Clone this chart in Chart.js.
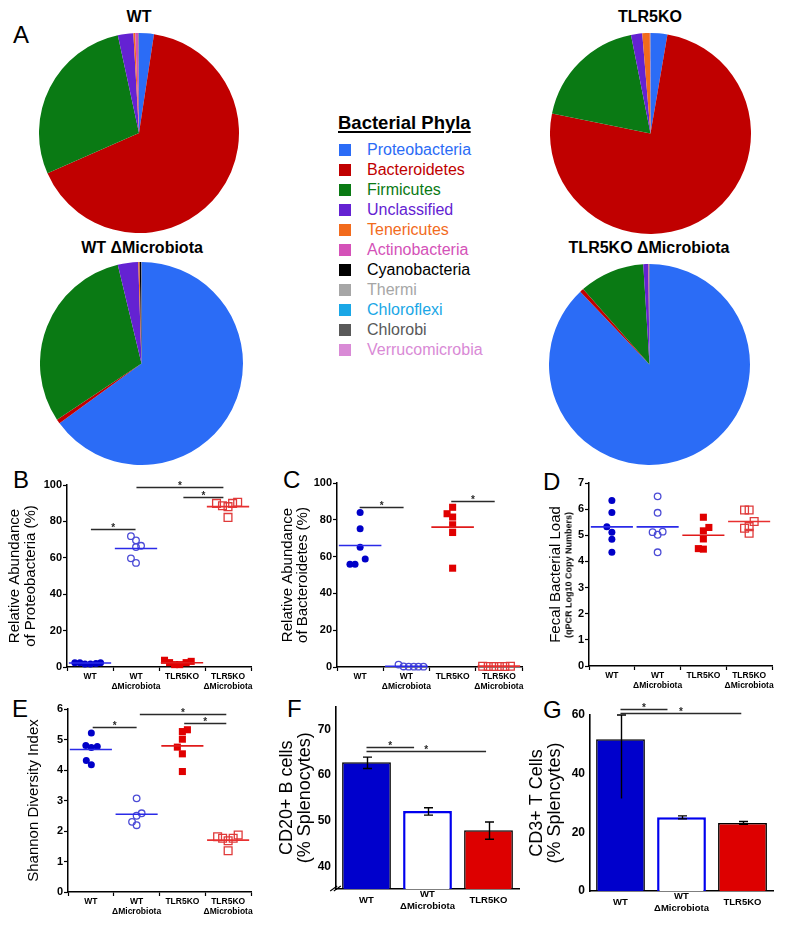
<!DOCTYPE html>
<html>
<head>
<meta charset="utf-8">
<title>Microbiota figure</title>
<script src="https://cdn.jsdelivr.net/npm/chart.js@4.4.1/dist/chart.umd.min.js"></script>
<style>
html,body{margin:0;padding:0;background:#fff;}
body{position:relative;width:800px;height:934px;overflow:hidden;font-family:"Liberation Sans",Arial,Helvetica,sans-serif;color:#000;}
canvas{position:absolute;}
.t{position:absolute;white-space:nowrap;}
</style>
</head>
<body>
<script>
// ---------------- DATA ----------------
const phyla = ['Proteobacteria','Bacteroidetes','Firmicutes','Unclassified','Tenericutes','Actinobacteria','Cyanobacteria','Thermi','Chloroflexi','Chlorobi','Verrucomicrobia'];
const phylaColors = ['#2b6cf6','#c00000','#0a7a14','#6422d2','#f26b1d','#d452b8','#000000','#a6a6a6','#1aa7e6','#595959','#d98ad6'];
const pieWT       = [2.4, 66.0, 28.2, 2.5, 0.3, 0.5, 0.05, 0.02, 0.01, 0.01, 0.01];
const pieTLR5KO   = [2.7, 75.5, 18.7, 1.8, 1.2, 0.05, 0.02, 0.01, 0.01, 0.01, 0.01];
const pieWTdM     = [65.0, 0.7, 30.6, 3.25, 0.2, 0.02, 0.25, 0.01, 0.01, 0.01, 0.01];
const pieTLR5KOdM = [87.9, 0.6, 10.5, 0.8, 0.05, 0.05, 0.05, 0.01, 0.01, 0.01, 0.01];

const groupLabels = [['WT'], ['WT','ΔMicrobiota'], ['TLR5KO'], ['TLR5KO','ΔMicrobiota']];
const barLabels = [['WT'], ['WT','ΔMicrobiota'], ['TLR5KO']];

// B: Relative abundance of Proteobacteria (%)
const protWT   = [2.4, 2.4, 1.7, 1.7, 1.9, 2.4];
const protWTdM = [71.9, 69.6, 65.9, 66.6, 59.7, 57.2];
const protKO   = [3.7, 2.4, 1.3, 1.3, 2.4, 3.1];
const protKOdM = [89.9, 88.6, 88.1, 89.9, 90.5, 82.2];
const protMedian = [2.2, 65.1, 2.3, 88.1];
const protJitter = [[-0.33,-0.22,-0.11,0.01,0.13,0.23],[-0.11,0,0,0.11,-0.11,0],[-0.38,-0.27,-0.16,-0.05,0.09,0.2],[-0.25,-0.12,0,0.1,0.21,0]];
const protSig = [[0.52,1.49,75.8],[1.51,3.4,98.7],[2.53,3.4,93.2]];

// C: Relative abundance of Bacteroidetes (%)
const bactWT   = [84.0, 75.1, 65.1, 58.7, 55.8, 55.8];
const bactWTdM = [1.3, 0.3, 0.2, 0.2, 0.2, 0.2];
const bactKO   = [83.3, 86.8, 81.5, 77.3, 73.1, 53.7];
const bactKOdM = [0.4, 0.3, 0.3, 0.3, 0.3, 0.4];
const bactMedian = [66.0, 0.4, 76.0, 0.5];
const bactJitter = [[0,0,0,0.11,-0.11,-0.22],[-0.17,-0.06,0.05,0.16,0.26,0.37],[-0.12,0,0,0,0,0],[-0.35,-0.23,-0.11,0.01,0.13,0.25]];
const bactSig = [[0.49,1.44,87.2],[2.47,3.41,90.3]];

// D: Fecal bacterial load (qPCR log10 copy numbers)
const loadWT   = [6.33, 5.87, 5.33, 5.12, 4.85, 4.35];
const loadWTdM = [6.49, 5.86, 5.12, 5.02, 5.14, 4.35];
const loadKO   = [5.69, 5.30, 5.17, 4.86, 4.49, 4.47];
const loadKOdM = [5.97, 5.97, 5.53, 5.33, 5.27, 5.08];
const loadMedian = [5.32, 5.32, 5.0, 5.53];
const loadJitter = [[0,0,-0.11,0,0,0],[0,0,-0.11,0,0.11,0],[0,0.12,0,0,-0.11,0],[-0.1,0,0.11,0,-0.1,0]];

// E: Shannon diversity index
const shanWT   = [5.21, 4.80, 4.74, 4.77, 4.31, 4.17];
const shanWTdM = [3.07, 2.50, 2.58, 2.30, 2.19];
const shanKO   = [5.26, 5.32, 5.01, 4.75, 4.53, 3.95];
const shanKOdM = [1.81, 1.76, 1.68, 1.76, 1.87, 1.35];
const shanMedian = [4.67, 2.55, 4.79, 1.70];
const shanJitter = [[0.01,-0.11,0.01,0.14,-0.1,0.01],[0,0,0.11,-0.1,0],[0,0.11,0,-0.11,0,0],[-0.23,-0.12,0,0.11,0.22,0]];
const shanSig = [[0.54,1.5,5.41],[1.57,3.46,5.84],[2.54,3.46,5.54]];

// F: CD20+ B cells (% splenocytes)
const cd20   = [62.8, 52.1, 47.9];
const cd20Lo = [61.4, 51.2, 45.9];
const cd20Hi = [63.9, 52.8, 49.7];
const cd20Sig = [[0,0.78,66.2],[0,1.96,65.3]];

// G: CD3+ T cells (% splenocytes)
const cd3   = [51.7, 25.1, 23.2];
const cd3Lo = [31.5, 24.6, 22.7];
const cd3Hi = [60.0, 25.6, 23.7];
const cd3Sig = [[0,0.77,61.9],[0,1.98,60.8]];

// ---------------- SETUP ----------------
const FONT = '"Liberation Sans", Arial, Helvetica, sans-serif';
Chart.defaults.font.family = FONT;
Chart.defaults.color = '#000';
Chart.defaults.animation = false;
Chart.defaults.responsive = false;
Chart.defaults.events = [];
Chart.defaults.plugins.legend.display = false;
Chart.defaults.plugins.tooltip.enabled = false;

function mkCanvas(l, t, w, h) {
  const c = document.createElement('canvas');
  c.width = w; c.height = h;
  c.style.left = l + 'px'; c.style.top = t + 'px';
  c.style.width = w + 'px'; c.style.height = h + 'px';
  document.body.appendChild(c);
  return c;
}
function txt(str, x, base, size, o = {}) {
  const d = document.createElement('div');
  d.className = 't';
  d.textContent = str;
  d.style.fontSize = size + 'px';
  d.style.lineHeight = size + 'px';
  d.style.top = (base - 0.8465 * size) + 'px';
  d.style.left = x + 'px';
  d.style.fontWeight = o.weight || 'normal';
  d.style.color = o.color || '#000';
  if (o.center) d.style.transform = 'translateX(-50%)';
  document.body.appendChild(d);
  return d;
}

// ---------------- PIES ----------------
function pie(l, t, size, values) {
  const c = mkCanvas(l, t, size, size);
  new Chart(c, {
    type: 'pie',
    data: { labels: phyla, datasets: [{ data: values, backgroundColor: phylaColors, borderWidth: 0 }] },
    options: { layout: { padding: 0 } }
  });
}
pie(39, 33, 200, pieWT);
pie(550, 33, 201, pieTLR5KO);
pie(40, 262, 203, pieWTdM);
pie(549, 264, 201, pieTLR5KOdM);

txt('WT', 139, 22.7, 16, { weight: 'bold', center: true });
txt('TLR5KO', 650, 22.7, 16, { weight: 'bold', center: true });
txt('WT ΔMicrobiota', 142, 254, 16, { weight: 'bold', center: true });
txt('TLR5KO ΔMicrobiota', 649, 254, 16, { weight: 'bold', center: true });

// Legend
const lt = txt('Bacterial Phyla', 338, 130, 18.5, { weight: 'bold' });
lt.style.textDecoration = 'underline';
lt.style.textDecorationThickness = '2px';
lt.style.textUnderlineOffset = '2px';
phyla.forEach((name, i) => {
  const base = 155.5 + 20 * i;
  const sq = document.createElement('div');
  sq.style.cssText = `position:absolute;left:339px;top:${base - 11.5}px;width:12px;height:12px;background:${phylaColors[i]}`;
  document.body.appendChild(sq);
  txt(name, 367, base, 16, { color: phylaColors[i] });
});

// Panel letters
[['A',13,43],['B',13,488],['C',283,488],['D',543,490],['E',12,717],['F',287,717],['G',543,718]]
  .forEach(([s,x,b]) => txt(s, x, b, 24));

// ---------------- PLUGINS ----------------
function sigPlugin(lines) {
  return { id: 'sigBrackets', afterDatasetsDraw(chart) {
    const ctx = chart.ctx, x = chart.scales.x, y = chart.scales.y;
    ctx.save();
    ctx.strokeStyle = '#2a2a2a'; ctx.fillStyle = '#2a2a2a'; ctx.lineWidth = 1.3;
    ctx.font = 'bold 10px ' + FONT; ctx.textAlign = 'center'; ctx.textBaseline = 'alphabetic';
    lines.forEach(([a, b, v]) => {
      const py = Math.round(y.getPixelForValue(v)) + 0.5;
      const xa = x.getPixelForValue(a), xb = x.getPixelForValue(b);
      ctx.beginPath(); ctx.moveTo(xa, py); ctx.lineTo(xb, py); ctx.stroke();
      ctx.fillText('*', (xa + xb) / 2, py + 1.5);
    });
    ctx.restore();
  }};
}
function errPlugin(lo, hi, capLo) {
  return { id: 'errBars', afterDatasetsDraw(chart) {
    const ctx = chart.ctx, y = chart.scales.y, meta = chart.getDatasetMeta(0);
    ctx.save(); ctx.strokeStyle = '#000'; ctx.lineWidth = 1.4;
    meta.data.forEach((bar, i) => {
      const x = Math.round(bar.x) + 0.5;
      const yl = y.getPixelForValue(lo[i]), yh = y.getPixelForValue(hi[i]);
      ctx.beginPath(); ctx.moveTo(x, yl); ctx.lineTo(x, yh);
      ctx.moveTo(x - 4.5, yh); ctx.lineTo(x + 4.5, yh);
      if (capLo[i]) { ctx.moveTo(x - 4.5, yl); ctx.lineTo(x + 4.5, yl); }
      ctx.stroke();
    });
    ctx.restore();
  }};
}
const breakPlugin = { id: 'axisBreak', afterDraw(chart) {
  const ctx = chart.ctx, a = chart.chartArea;
  ctx.save(); ctx.strokeStyle = '#000'; ctx.lineWidth = 1.1;
  [-1.8, 1.8].forEach(d => {
    ctx.beginPath(); ctx.moveTo(a.left - 4 + d, a.bottom + 2); ctx.lineTo(a.left + 3 + d, a.bottom - 3); ctx.stroke();
  });
  ctx.restore();
}};

// ---------------- DOT PANELS ----------------
const dotStyles = [
  { shape: 'circle', r: 3.5, fill: '#0000c8', stroke: '#0000c8', bw: 0, line: '#2a2ae8' },
  { shape: 'circle', r: 3.3, fill: 'rgba(0,0,0,0)', stroke: '#4b4bd6', bw: 1.3, line: '#2a2ae8' },
  { shape: 'rect', r: 5, fill: '#e00000', stroke: '#e00000', bw: 0, line: '#e01a1a' },
  { shape: 'rect', r: 5.5, fill: 'rgba(0,0,0,0)', stroke: '#e03a3a', bw: 1.3, line: '#e83030' }
];

function dotPanel(box, area, yMin, yMax, yStep, groups, jitter, medians, sig, title, titlePad, titleSize, titleLH) {
  const c = mkCanvas(box.l, box.t, box.w, box.h);
  const yW = area.l - box.l, xH = box.t + box.h - area.b;
  const padTop = area.t - box.t, padRight = box.l + box.w - area.r;
  const datasets = [];
  groups.forEach((vals, g) => {
    const st = dotStyles[g];
    datasets.push({
      data: [{ x: g + 0.5 - 0.46, y: medians[g] }, { x: g + 0.5 + 0.46, y: medians[g] }],
      showLine: true, borderColor: st.line, borderWidth: 1.6, pointRadius: 0, clip: false
    });
  });
  groups.forEach((vals, g) => {
    const st = dotStyles[g];
    datasets.push({
      data: vals.map((v, i) => ({ x: g + 0.5 + jitter[g][i], y: v })),
      pointStyle: st.shape, pointRadius: st.r, backgroundColor: st.fill,
      borderColor: st.stroke, borderWidth: st.bw, clip: false
    });
  });
  const plugins = sig ? [sigPlugin(sig)] : [];
  new Chart(c, {
    type: 'scatter',
    data: { datasets },
    options: {
      layout: { padding: { top: padTop, right: padRight, left: 0, bottom: 0 } },
      scales: {
        x: {
          type: 'linear', min: 0, max: 4,
          afterBuildTicks: s => { s.ticks = [0,0.5,1,1.5,2,2.5,3,3.5,4].map(v => ({ value: v })); },
          afterFit: s => { s.height = xH; },
          ticks: {
            autoSkip: false, maxRotation: 0, minRotation: 0, padding: 0, color: '#000',
            font: { size: 8.5, weight: 'bold', lineHeight: 1.25 },
            callback: v => (Math.abs(v % 1 - 0.5) < 1e-6) ? groupLabels[Math.floor(v)] : ''
          },
          grid: {
            display: true, drawOnChartArea: false, drawTicks: true, tickLength: 4, tickWidth: 1.2,
            tickColor: ctx => (ctx.tick && Math.abs(ctx.tick.value % 1) < 1e-6) ? '#000' : 'rgba(0,0,0,0)'
          },
          border: { display: true, color: '#000', width: 1.5 }
        },
        y: {
          type: 'linear', min: yMin, max: yMax,
          afterFit: s => { s.width = yW; },
          ticks: { stepSize: yStep, padding: 1, color: '#000', font: { size: 11, weight: 'bold' } },
          grid: { display: true, drawOnChartArea: false, drawTicks: true, tickLength: 4, tickWidth: 1.2, tickColor: '#000' },
          border: { display: true, color: '#000', width: 1.5 },
          title: { display: true, text: title, color: '#000', font: { size: titleSize, lineHeight: titleLH / titleSize }, padding: { top: titlePad, bottom: 0 } }
        }
      }
    },
    plugins
  });
  return c;
}

dotPanel({ l: 0, t: 460, w: 262, h: 242 }, { l: 67, t: 485, r: 251, b: 667 }, 0, 100, 20,
  [protWT, protWTdM, protKO, protKOdM], protJitter, protMedian, protSig,
  ['Relative Abundance', 'of Proteobacteria (%)'], 7, 15, 16);

dotPanel({ l: 265, t: 460, w: 267, h: 242 }, { l: 337, t: 483, r: 522, b: 667 }, 0, 100, 20,
  [bactWT, bactWTdM, bactKO, bactKOdM], bactJitter, bactMedian, bactSig,
  ['Relative Abundance', 'of Bacteroidetes (%)'], 15, 15, 15.5);

dotPanel({ l: 530, t: 460, w: 270, h: 242 }, { l: 589, t: 483, r: 772, b: 666 }, 0, 7, 1,
  [loadWT, loadWTdM, loadKO, loadKOdM], loadJitter, loadMedian, null,
  'Fecal Bacterial Load', 18, 15, 16);
(() => {
  const d = document.createElement('div');
  d.className = 't';
  d.textContent = '(qPCR Log10 Copy Numbers)';
  d.style.cssText += 'left:568.5px;top:575px;font-size:9px;line-height:9px;font-weight:bold;transform:translate(-50%,-50%) rotate(-90deg);';
  document.body.appendChild(d);
})();

dotPanel({ l: 0, t: 690, w: 262, h: 244 }, { l: 68, t: 709, r: 251, b: 892 }, 0, 6, 1,
  [shanWT, shanWTdM, shanKO, shanKOdM], shanJitter, shanMedian, shanSig,
  'Shannon Diversity Index', 25.5, 15, 16);

// ---------------- BAR PANELS ----------------
const barFill = ['#0000cc', '#ffffff', '#dd0000'];
const barStroke = ['#000000', '#0000ee', '#000000'];
const barBW = [1.5, 2.5, 1.5];

function barPanel(box, area, yMin, yMax, yTicks, values, lo, hi, capLo, sig, title, titlePad, withBreak) {
  const c = mkCanvas(box.l, box.t, box.w, box.h);
  const yW = area.l - box.l, xH = box.t + box.h - area.b;
  const padTop = area.t - box.t, padRight = box.l + box.w - area.r;
  const plugins = [errPlugin(lo, hi, capLo), sigPlugin(sig)];
  if (withBreak) plugins.push(breakPlugin);
  new Chart(c, {
    type: 'bar',
    data: { labels: barLabels, datasets: [{
      data: values, base: yMin, backgroundColor: barFill, borderColor: barStroke, borderWidth: barBW,
      categoryPercentage: 0.8, barPercentage: 1
    }]},
    options: {
      layout: { padding: { top: padTop, right: padRight, left: 0, bottom: 0 } },
      scales: {
        x: {
          type: 'category', offset: true,
          afterFit: s => { s.height = xH; },
          grid: { display: false, drawTicks: false },
          border: { display: true, color: '#000', width: 1.6 },
          ticks: { autoSkip: false, maxRotation: 0, minRotation: 0, padding: 5, crossAlign: 'center', color: '#000',
                   font: { size: 9.5, weight: 'bold', lineHeight: 1.3 } }
        },
        y: {
          type: 'linear', min: yMin, max: yMax,
          afterBuildTicks: s => { s.ticks = yTicks.map(v => ({ value: v })); },
          afterFit: s => { s.width = yW; },
          ticks: { padding: 5, color: '#000', font: { size: 12, weight: 'bold' } },
          grid: { display: false, drawTicks: false },
          border: { display: true, color: '#000', width: 1.6 },
          title: { display: true, text: title, color: '#000', font: { size: 18, lineHeight: 17.5 / 18 }, padding: { top: titlePad, bottom: 0 } }
        }
      }
    },
    plugins
  });
}

barPanel({ l: 265, t: 690, w: 265, h: 244 }, { l: 336, t: 706.5, r: 519, b: 889 }, 35, 75, [40, 50, 60, 70],
  cd20, cd20Lo, cd20Hi, [true, true, true], cd20Sig, ['CD20+ B cells', '(% Splenocytes)'], 13.75, true);

barPanel({ l: 525, t: 690, w: 275, h: 244 }, { l: 590, t: 715, r: 773, b: 891 }, 0, 60, [0, 20, 40, 60],
  cd3, cd3Lo, cd3Hi, [false, true, true], cd3Sig, ['CD3+ T Cells', '(% Splencytes)'], 3.75, false);
</script>
</body>
</html>
